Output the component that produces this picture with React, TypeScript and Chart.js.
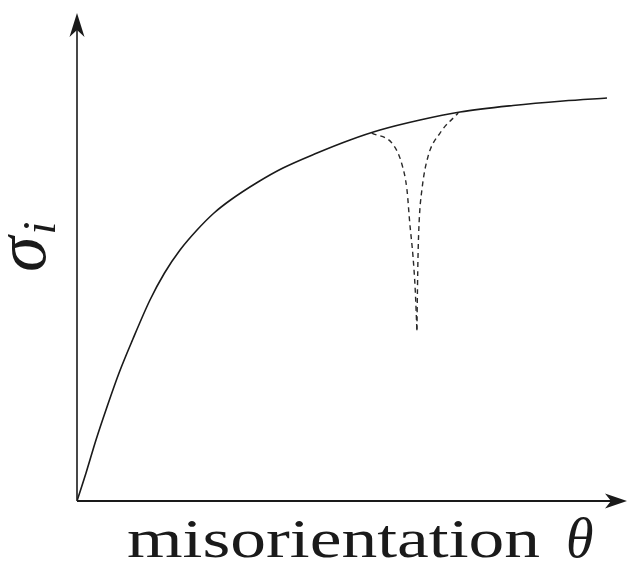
import { useEffect, useRef } from "react";
import { Chart, registerables } from "chart.js";

Chart.register(...registerables);

// Boundary strength versus misorientation (schematic, arbitrary units 0–100)
const curveTheta = [0, 1.64, 3.45, 5.45, 7.64, 10.09, 13.27, 15.91, 18.73, 21.82, 24.91, 27.91, 32.91, 37.45, 43.64, 49.64, 55.09, 62.36, 69.64, 79.27, 88.36, 96.36];
const curveSigma = [0, 5.74, 12.5, 19.26, 26.23, 32.99, 41.19, 46.72, 51.43, 55.53, 59.02, 61.68, 65.37, 68.24, 71.31, 73.98, 76.02, 78.07, 79.71, 81.05, 81.97, 82.58];

// Special-boundary cusp (dashed), split into its two branches
const cuspLeftTheta = [53.6, 57.5, 59.1, 60.0, 60.5, 61.1, 61.5, 61.8];
const cuspLeftSigma = [75.4, 73.0, 68.9, 63.7, 57.0, 50.0, 43.2, 35.0];
const cuspRightTheta = [61.8, 61.9, 62.0, 62.2, 62.7, 63.8, 66.0, 69.3];
const cuspRightSigma = [35.0, 43.2, 50.0, 57.0, 63.7, 70.5, 75.4, 79.5];

const xLabelWord = "misorientation";
const xLabelSymbol = "θ";
const yLabelSymbol = "σ";
const yLabelSub = "i";

const pairs = (xs: number[], ys: number[]) => xs.map((x, i) => ({ x, y: ys[i] }));

const INK = "#1a1a1a";

// Axis lines with stealth-style arrowheads, drawn under the curves
const arrowAxes = {
  id: "arrowAxes",
  beforeDatasetsDraw(chart: Chart) {
    const { ctx, chartArea } = chart;
    const { left, right, top, bottom } = chartArea;
    ctx.save();
    ctx.strokeStyle = INK;
    ctx.fillStyle = INK;

    // vertical axis
    ctx.lineWidth = 1.6;
    ctx.beginPath();
    ctx.moveTo(left, bottom);
    ctx.lineTo(left, top + 16);
    ctx.stroke();
    ctx.beginPath();
    ctx.moveTo(left, top);
    ctx.lineTo(left - 7.5, top + 24);
    ctx.lineTo(left, top + 17);
    ctx.lineTo(left + 7.5, top + 24);
    ctx.closePath();
    ctx.fill();

    // horizontal axis
    ctx.lineWidth = 2;
    ctx.beginPath();
    ctx.moveTo(left, bottom);
    ctx.lineTo(right - 16, bottom);
    ctx.stroke();
    ctx.beginPath();
    ctx.moveTo(right, bottom);
    ctx.lineTo(right - 22, bottom - 7.5);
    ctx.lineTo(right - 16, bottom);
    ctx.lineTo(right - 22, bottom + 7.5);
    ctx.closePath();
    ctx.fill();
    ctx.restore();
  },
  afterDraw(chart: Chart) {
    const { ctx } = chart;
    ctx.save();
    ctx.fillStyle = INK;
    ctx.textBaseline = "alphabetic";
    ctx.textAlign = "left";

    // x-axis label: upright word, italic symbol
    ctx.font = '54px "Liberation Serif", serif';
    const w = ctx.measureText(xLabelWord).width;
    ctx.save();
    ctx.translate(127, 557);
    ctx.scale(413 / w, 1);
    ctx.fillText(xLabelWord, 0, 0);
    ctx.restore();
    ctx.font = 'italic 56px "Liberation Serif", serif';
    ctx.fillText(xLabelSymbol, 566, 557);

    // y-axis label: σ_i, rotated
    ctx.save();
    ctx.translate(45, 272);
    ctx.rotate(-Math.PI / 2);
    ctx.font = 'italic 72px "Liberation Serif", serif';
    ctx.fillText(yLabelSymbol, 0, 0);
    const sw = ctx.measureText(yLabelSymbol).width;
    ctx.font = 'italic 46px "Liberation Serif", serif';
    ctx.fillText(yLabelSub, sw + 2, 10);
    ctx.restore();
    ctx.restore();
  },
};

export default function App() {
  const ref = useRef<HTMLCanvasElement>(null);

  useEffect(() => {
    if (!ref.current) return;
    const chart = new Chart(ref.current, {
      type: "scatter",
      data: {
        datasets: [
          {
            data: pairs(curveTheta, curveSigma),
            showLine: true,
            borderColor: INK,
            borderWidth: 1.6,
            pointRadius: 0,
            cubicInterpolationMode: "monotone",
          },
          {
            data: pairs(cuspLeftTheta, cuspLeftSigma),
            showLine: true,
            borderColor: "#2a2a2a",
            borderWidth: 1.4,
            borderDash: [5, 4],
            pointRadius: 0,
            cubicInterpolationMode: "monotone",
          },
          {
            data: pairs(cuspRightTheta, cuspRightSigma),
            showLine: true,
            borderColor: "#2a2a2a",
            borderWidth: 1.4,
            borderDash: [5, 4],
            pointRadius: 0,
            cubicInterpolationMode: "monotone",
          },
        ],
      },
      options: {
        animation: false,
        responsive: false,
        devicePixelRatio: 1,
        layout: { padding: { left: 77, right: 3, top: 13, bottom: 61 } },
        plugins: { legend: { display: false }, tooltip: { enabled: false } },
        scales: {
          x: { type: "linear", min: 0, max: 100, display: false },
          y: { type: "linear", min: 0, max: 100, display: false },
        },
      },
      plugins: [arrowAxes],
    });
    return () => chart.destroy();
  }, []);

  return (
    <div style={{ position: "fixed", left: 0, top: 0, width: 630, height: 562, background: "#fff" }}>
      <canvas ref={ref} width={630} height={562} />
    </div>
  );
}
